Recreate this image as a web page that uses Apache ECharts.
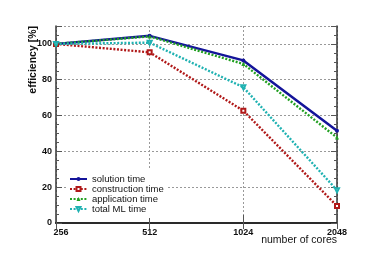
<!DOCTYPE html>
<html>
<head>
<meta charset="utf-8">
<script src="https://cdn.jsdelivr.net/npm/echarts@6/dist/echarts.min.js"></script>
<style>html,body{margin:0;padding:0;background:#fff}#c{width:374px;height:266px}</style>
</head>
<body>
<div id="c"></div>
<script>
const categories = ['256', '512', '1024', '2048'];
const seriesNames = ['solution time', 'construction time', 'application time', 'total ML time'];
const solution = [100, 104.5, 90.8, 51.5];
const construction = [100, 95.3, 62.7, 9.5];
const application = [100, 104.2, 88.8, 47.7];
const totalML = [100, 100.7, 75.8, 18.3];
const yTicks = [0, 20, 40, 60, 80, 100];

const FONT = 'Liberation Sans';
const chart = echarts.init(document.getElementById('c'), null, {renderer: 'canvas'});
const dot = [2, 1.6];
const frame = {show: true, lineStyle: {color: '#333', width: 1.5}};
function yAx(pos, interval, tickLen, labels, split, line) {
  return {
    type: 'value', position: pos, min: 0, max: 110, interval: interval,
    axisLine: line ? frame : {show: false},
    axisTick: {show: true, inside: true, length: tickLen, lineStyle: {color: '#555', width: 1}},
    axisLabel: labels ? {
      show: true, fontFamily: FONT, fontWeight: 'bold', fontSize: 9, color: '#111', margin: 4,
      formatter: v => (yTicks.indexOf(v) >= 0 ? String(v) : '')
    } : {show: false},
    splitLine: split ? {show: true, lineStyle: {color: '#999', type: [2, 2], width: 1}} : {show: false}
  };
}
function mk(name, data, color, symbol, solid, rot) {
  const empty = symbol.indexOf('empty') === 0;
  return {
    name: name, type: 'line', data: data, xAxisIndex: 0, yAxisIndex: 0,
    symbol: symbol, symbolSize: 4, symbolRotate: rot || 0, showSymbol: true,
    lineStyle: {color: color, width: solid ? 2.5 : 2.4, type: solid ? 'solid' : dot},
    itemStyle: {color: color, borderColor: color, borderWidth: empty ? 1 : 0},
    animation: false, z: 3
  };
}
chart.setOption({
  animation: false,
  backgroundColor: '#fff',
  grid: {left: 56, top: 26, width: 281, height: 197, containLabel: false},
  xAxis: [
    {type: 'category', data: categories, boundaryGap: false, position: 'bottom',
     axisLine: {show: true, lineStyle: {color: '#111', width: 1.8}},
     axisTick: {show: true, inside: true, length: 8, lineStyle: {color: '#555'}},
     axisLabel: {fontFamily: FONT, fontWeight: 'bold', fontSize: 9, color: '#111', margin: 5,
       formatter: (v, i) => (i === 0 ? '{a|' + v + '}' : v),
       rich: {a: {fontFamily: FONT, fontWeight: 'bold', fontSize: 9, color: '#111', padding: [0, 0, 0, 10]}}},
     splitLine: {show: true, lineStyle: {color: '#999', type: [2, 2], width: 1}}},
    {type: 'category', data: categories, boundaryGap: false, position: 'top',
     axisLine: frame,
     axisTick: {show: true, inside: true, length: 6, lineStyle: {color: '#555'}},
     axisLabel: {show: false}, splitLine: {show: false}}
  ],
  yAxis: [
    yAx('left', 20, 6, true, true, true),
    yAx('left', 5, 3, false, false, false),
    yAx('right', 20, 6, false, false, true),
    yAx('right', 5, 3, false, false, false)
  ],
  legend: {
    show: true, orient: 'vertical', left: 68, top: 170,
    padding: [4, 4, 4, 1], backgroundColor: '#fff',
    itemWidth: 17, itemHeight: 5, itemGap: 0,
    textStyle: {fontFamily: FONT, fontSize: 9.5, color: '#111', lineHeight: 10},
    data: seriesNames
  },
  series: [
    mk(seriesNames[0], solution, '#14149a', 'circle', true),
    mk(seriesNames[1], construction, '#b01818', 'emptyRect', false),
    mk(seriesNames[2], application, '#22a022', 'triangle', false),
    mk(seriesNames[3], totalML, '#20b2b2', 'emptyTriangle', false, 180)
  ],
  graphic: [
    {type: 'text', x: 33, y: 26, rotation: Math.PI / 2, z: 10,
     style: {text: 'efficiency [%]', font: 'bold 10.5px "' + FONT + '"', fill: '#111',
             textAlign: 'right', textVerticalAlign: 'middle'}},
    {type: 'text', x: 337, y: 240, z: 10,
     style: {text: 'number of cores', font: '10.5px "' + FONT + '"', fill: '#111',
             textAlign: 'right', textVerticalAlign: 'middle'}}
  ]
});
</script>
</body>
</html>
